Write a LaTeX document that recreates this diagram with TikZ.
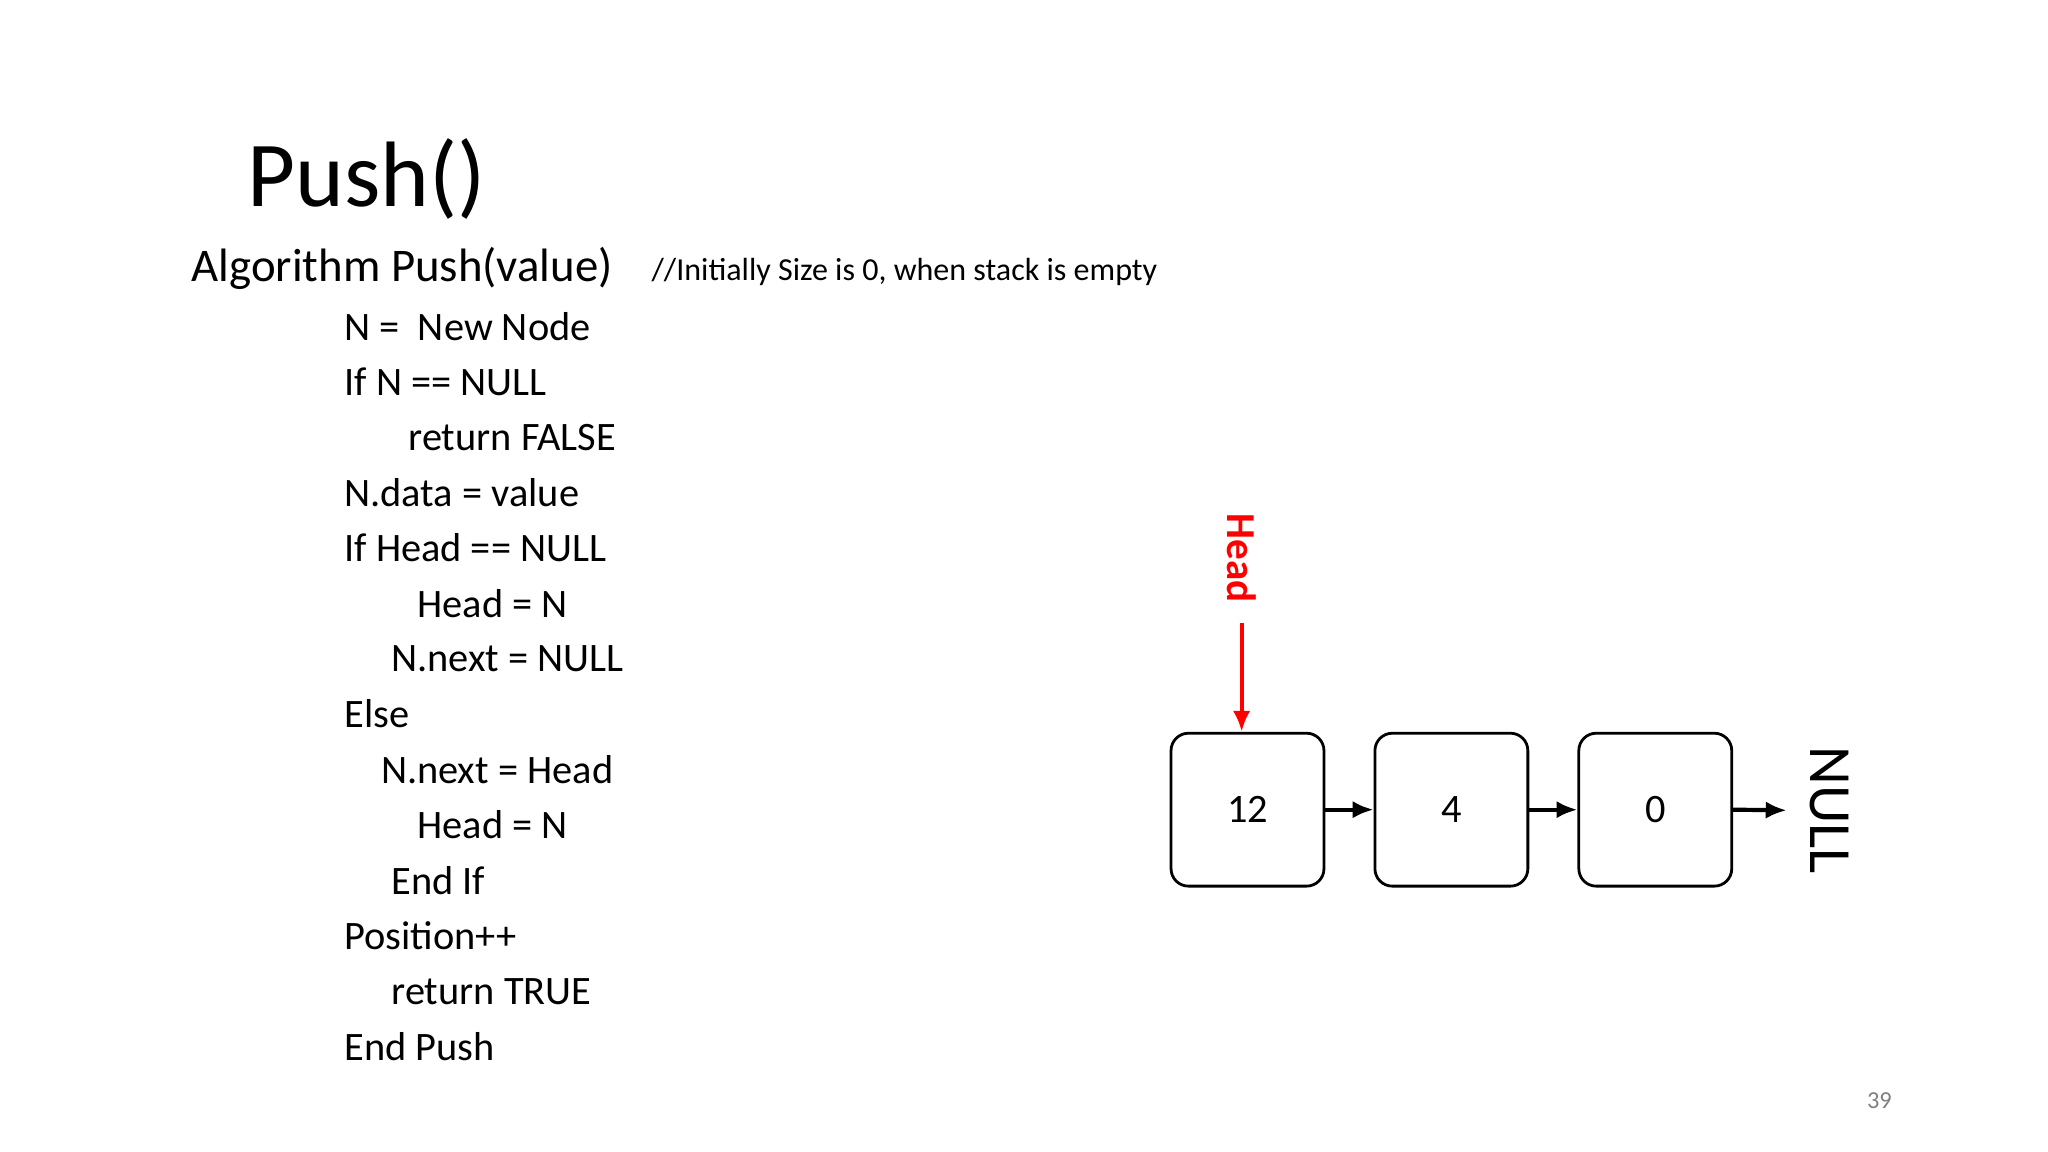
\documentclass[tikz,border=0pt]{standalone}
\usepackage{fontspec}
\setmainfont{Carlito}
\usetikzlibrary{arrows.meta}
\begin{document}
\begin{tikzpicture}[x=0.0132cm,y=-0.0132cm,
  code/.style={anchor=west,inner sep=0pt,font=\fontsize{11.6pt}{13pt}\selectfont},
  box/.style={draw,line width=0.8pt,rounded corners=5pt,minimum width=117*0.0132cm,minimum height=117*0.0132cm,font=\fontsize{11.6pt}{13pt}\selectfont},
  link/.style={-{Latex[length=6pt,width=5pt]},line width=1.2pt}]
\useasboundingbox (0,0) rectangle (1567,881.4);
\node[anchor=west,inner sep=0pt,font=\fontsize{26.7pt}{30pt}\selectfont] (title) at (189,137) {Push()};
\node[anchor=west,inner sep=0pt,font=\fontsize{13.45pt}{15pt}\selectfont] (alg) at (146,205) {Algorithm Push(value)};
\node[anchor=west,inner sep=0pt,font=\fontsize{9.2pt}{10pt}\selectfont] (cmt) at (498,208) {//Initially Size is 0, when stack is empty};
\node[code] (l1) at (263,250) {N =~ New Node};
\node[code] (l2) at (263,292) {If N == NULL};
\node[code] (l3) at (312,335) {return FALSE};
\node[code] (l4) at (263,377) {N.data = value};
\node[code] (l5) at (263,419) {If Head == NULL};
\node[code] (l6) at (319,462) {Head = N};
\node[code] (l7) at (299,504) {N.next = NULL};
\node[code] (l8) at (263,546) {Else};
\node[code] (l9) at (291,589) {N.next = Head};
\node[code] (l10) at (319,631) {Head = N};
\node[code] (l11) at (299,674) {End If};
\node[code] (l12) at (263,716) {Position++};
\node[code] (l13) at (299,759) {return TRUE};
\node[code] (l14) at (263,801) {End Push};
\node[box] (b1) at (954.5,619.5) {12};
\node[box] (b2) at (1110.5,619.5) {4};
\node[box] (b3) at (1266.5,619.5) {0};
\node[rotate=-90,inner sep=0pt,font=\fontsize{17.2pt}{19pt}\selectfont] (null) at (1400,620) {NULL};
\coordinate (nullend) at (1367,620);
\draw[link] (b1) -- (b2);
\draw[link] (b2) -- (b3);
\draw[link] (b3.east) -- (nullend);
\node[rotate=-90,inner sep=0pt,text=red,font=\bfseries\fontsize{11.8pt}{14pt}\selectfont] (head) at (950,427) {Head};
\coordinate (hs) at (950,477);
\draw[link,red] (hs) -- (b1.north -| hs);
\node[text=gray,font=\fontsize{7pt}{8pt}\selectfont] (pg) at (1438,842) {39};
\end{tikzpicture}
\end{document}
